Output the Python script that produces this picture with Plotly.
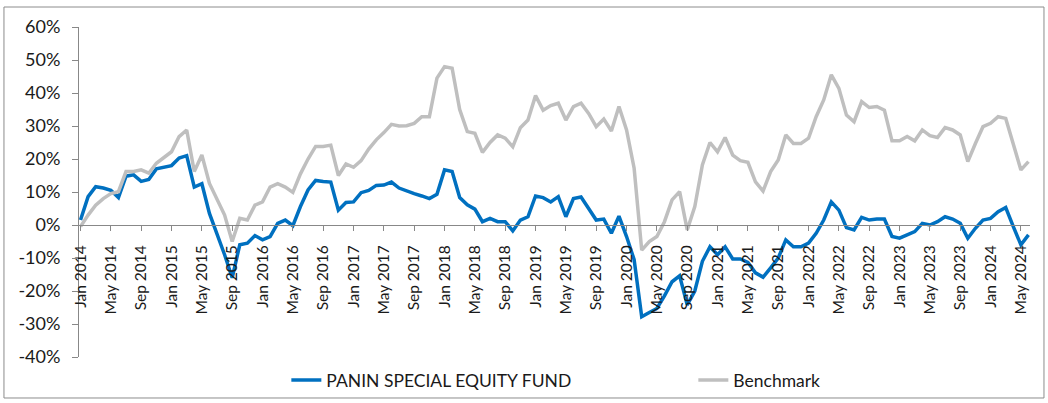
import plotly.graph_objects as go

month_names = ["Jan", "Feb", "Mar", "Apr", "May", "Jun", "Jul", "Aug", "Sep", "Oct", "Nov", "Dec"]
months = [f"{month_names[m]} {y}" for y in range(2014, 2025) for m in range(12)][:126]

fund = [
    1.5, 8.6, 11.6, 11.2, 10.5, 8.3, 14.8, 15.2, 13.2, 13.8,
    17.0, 17.5, 18.0, 20.3, 21.0, 11.5, 12.5, 3.5, -2.5, -9.0,
    -16.0, -6.0, -5.5, -3.2, -4.5, -3.5, 0.5, 1.5, -0.2, 5.6,
    10.6, 13.5, 13.2, 13.0, 4.5, 6.8, 7.0, 9.8, 10.5, 12.0,
    12.1, 13.0, 11.2, 10.3, 9.5, 8.8, 8.0, 9.3, 16.7, 16.2,
    8.3, 6.1, 4.8, 1.0, 2.0, 1.0, 1.0, -1.8, 1.5, 2.5,
    8.8, 8.3, 7.0, 8.6, 2.5, 8.0, 8.5, 5.0, 1.5, 1.8,
    -2.5, 2.7, -3.5, -10.5, -27.8, -26.5, -25.3, -21.5, -17.2, -15.4,
    -24.2, -20.0, -11.0, -6.6, -9.0, -6.6, -10.3, -10.3, -11.3, -14.5,
    -15.8, -13.0, -10.0, -4.5, -6.6, -6.6, -5.5, -2.5, 1.5, 7.0,
    4.5, -0.8, -1.5, 2.3, 1.5, 1.8, 1.8, -3.5, -4.0, -3.0,
    -2.0, 0.5, 0.0, 1.0, 2.5, 1.8, 0.5, -4.0, -1.0, 1.5,
    2.0, 4.0, 5.3, -0.5, -6.0, -3.0,
]

benchmark = [
    -0.5, 3.0, 6.0, 8.0, 9.5, 10.1, 16.2, 16.2, 16.7, 15.7,
    18.7, 20.5, 22.2, 26.8, 28.8, 16.2, 21.2, 12.6, 8.0, 3.0,
    -5.0, 2.0, 1.5, 6.0, 7.0, 11.5, 12.5, 11.5, 9.9, 15.5,
    20.0, 23.8, 23.8, 24.2, 15.0, 18.5, 17.5, 19.5, 23.0, 25.8,
    28.0, 30.5, 30.0, 30.1, 30.8, 32.8, 32.8, 44.5, 48.0, 47.5,
    35.0, 28.3, 27.8, 22.0, 25.0, 27.3, 26.3, 23.7, 29.5, 31.8,
    39.2, 34.8, 36.2, 36.9, 31.8, 35.9, 36.9, 33.8, 29.8, 32.1,
    28.5, 35.9, 28.8, 17.2, -7.6, -5.0, -3.5, 1.0, 7.6, 10.1,
    -1.5, 5.6, 18.2, 25.0, 22.2, 26.5, 21.2, 19.5, 19.0, 13.1,
    10.3, 16.2, 19.7, 27.3, 24.7, 24.7, 26.3, 32.8, 37.9, 45.5,
    41.4, 33.3, 31.3, 37.4, 35.6, 35.9, 34.8, 25.5, 25.5, 26.8,
    25.5, 28.8, 27.1, 26.5, 29.5, 28.8, 27.3, 19.2, 24.7, 29.8,
    30.8, 32.8, 32.3, 24.2, 16.7, 19.2,
]

y_ticks = [-40, -30, -20, -10, 0, 10, 20, 30, 40, 50, 60]
x_ticks = months[::4]

FONT = "Lato"
fig = go.Figure()
fig.add_trace(go.Scatter(x=months, y=[v / 100 for v in fund], mode="lines",
                         name="PANIN SPECIAL EQUITY FUND",
                         line=dict(color="#0070C0", width=3.5)))
fig.add_trace(go.Scatter(x=months, y=[v / 100 for v in benchmark], mode="lines",
                         name="Benchmark",
                         line=dict(color="#BFBFBF", width=3.5)))

fig.update_layout(
    width=1048, height=403,
    margin=dict(l=79, r=18, t=27, b=46, autoexpand=False),
    paper_bgcolor="white", plot_bgcolor="white",
    font=dict(family=FONT, size=16, color="#1a1a1a"),
    showlegend=True,
    legend=dict(orientation="h", x=0.646, xanchor="center", y=-0.07, yanchor="middle",
                font=dict(family=FONT, size=17.5, color="#1a1a1a"),
                entrywidth=362, entrywidthmode="pixels", bgcolor="rgba(0,0,0,0)"),
    xaxis=dict(type="category", range=[-0.2, 125.2], tickmode="array",
               tickvals=x_ticks, ticktext=x_ticks, tickangle=-90,
               showline=True, linecolor="#888888", linewidth=1,
               ticks="outside", ticklen=5, tickcolor="#888888",
               ticklabelstandoff=8,
               showgrid=False, zeroline=False,
               anchor="free", position=0.4, automargin=False,
               tickfont=dict(family=FONT, size=15.5, color="#1a1a1a")),
    yaxis=dict(range=[-0.4, 0.6], tickmode="array",
               tickvals=[v / 100 for v in y_ticks],
               ticktext=[f"{v}%" for v in y_ticks],
               showline=True, linecolor="#888888", linewidth=1,
               ticks="outside", ticklen=6, tickcolor="#888888",
               ticklabelstandoff=8, automargin=False,
               showgrid=False, zeroline=False,
               tickfont=dict(family=FONT, size=18, color="#1a1a1a")),
    shapes=[dict(type="rect", xref="paper", yref="paper",
                 x0=-0.0789, x1=1.0147, y0=-0.1242, y1=1.0606,
                 line=dict(color="#8c8c8c", width=1), fillcolor="rgba(0,0,0,0)",
                 layer="below")],
)

fig.write_html("out.html", config={"displayModeBar": False},
               post_script="document.body.style.margin='0';document.body.style.overflow='hidden';")
